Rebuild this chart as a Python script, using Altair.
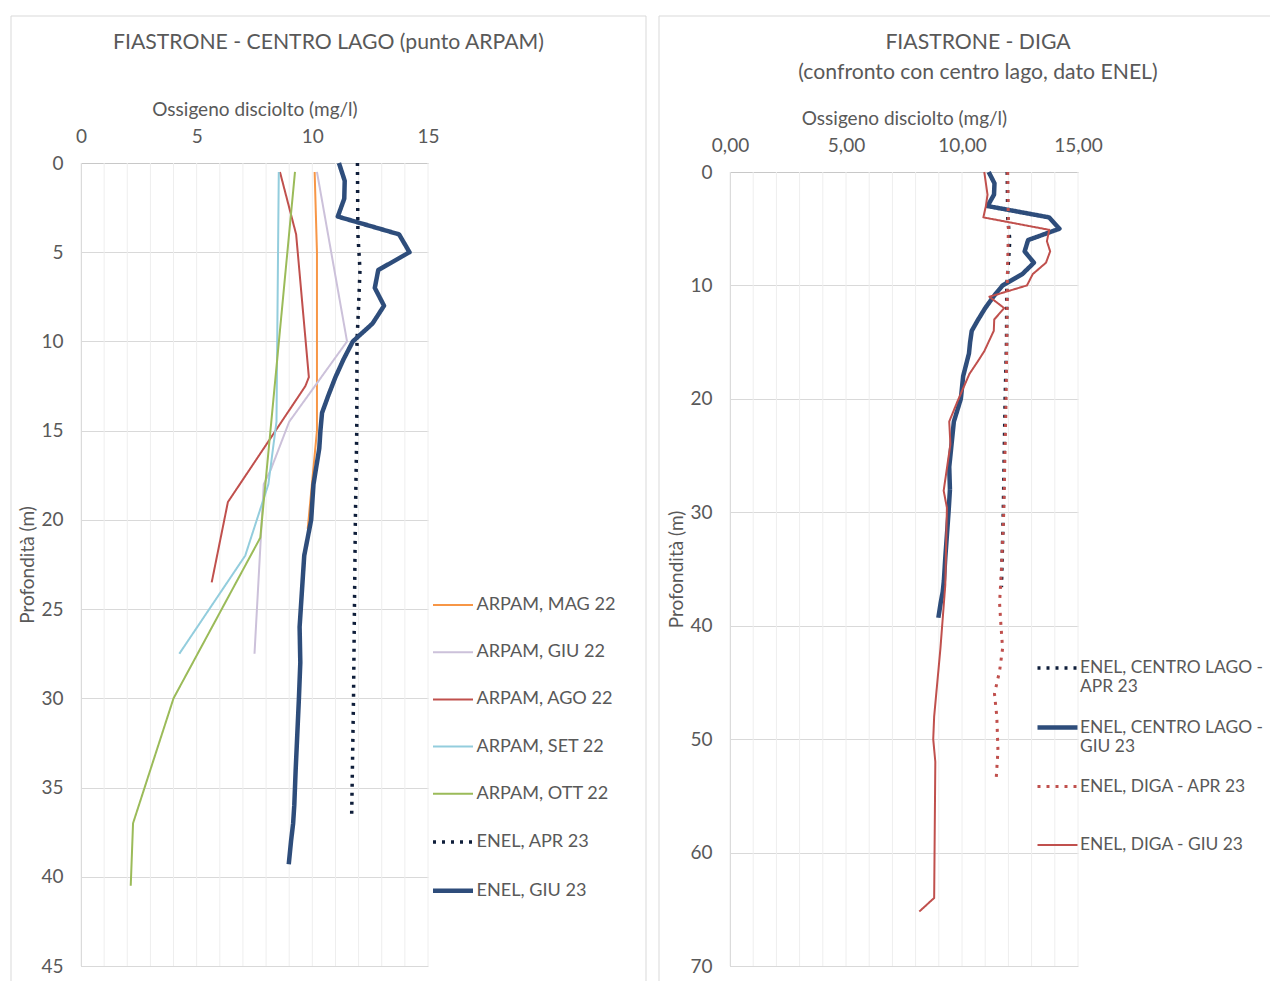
import altair as alt
import pandas as pd

FONT = "Lato"
GREY = "#595959"

# ---------------- left panel data (depth m, dissolved oxygen mg/l) ----------------
mag22_depth = [0.5, 5, 10, 15, 20.5]
mag22_do = [10.1, 10.2, 10.2, 10.2, 9.8]
giu22_depth = [0.5, 10, 14.5, 17.2, 18, 27.5]
giu22_do = [10.2, 11.5, 9.0, 8.2, 7.9, 7.5]
ago22_depth = [0.5, 4, 12, 12.5, 19, 23.5]
ago22_do = [8.6, 9.3, 9.85, 9.7, 6.35, 5.65]
set22_depth = [0.5, 14.5, 18, 22, 27.5]
set22_do = [8.55, 8.45, 8.1, 7.1, 4.25]
ott22_depth = [0.5, 21, 30, 37, 40.5]
ott22_do = [9.25, 7.75, 4.0, 2.25, 2.15]

# ENEL centro lago
apr23_depth = [0, 4, 6, 8, 10, 15, 20, 25, 30, 36.6]
apr23_do = [11.95, 11.97, 12.06, 12.0, 11.93, 11.92, 11.86, 11.82, 11.78, 11.7]
giu23_depth = [0, 1, 2, 3, 4, 5, 6, 7, 8, 9, 10, 11, 12, 13, 14, 15, 16, 18, 20,
               22, 24, 26, 28, 30, 32, 34, 36, 37, 38, 39.3]
giu23_do = [11.15, 11.4, 11.38, 11.1, 13.75, 14.2, 12.85, 12.7, 13.1, 12.6, 11.75,
            11.35, 11.0, 10.7, 10.42, 10.35, 10.3, 10.05, 9.95, 9.65, 9.55, 9.45,
            9.48, 9.42, 9.35, 9.28, 9.22, 9.17, 9.08, 8.98]

# ENEL diga
diga_apr_depth = [0, 5, 10, 15, 20, 25, 30, 35, 38, 40, 42, 44, 46, 48, 51, 53.6]
diga_apr_do = [11.97, 12.0, 11.95, 11.93, 11.9, 11.85, 11.8, 11.7, 11.62, 11.68,
               11.75, 11.62, 11.4, 11.5, 11.55, 11.47]
diga_giu_depth = [0, 2, 3, 4, 5.1, 6.1, 7, 8, 9, 10, 11, 12, 13, 14, 15.8, 16.7,
                  17.8, 20.2, 22, 24, 28.1, 29.6, 36.4, 42, 48, 50, 52, 64, 65.2]
diga_giu_do = [10.96, 11.1, 11.03, 10.92, 13.76, 13.66, 13.8, 13.62, 13.05, 12.8,
               11.18, 11.82, 11.39, 11.37, 10.96, 10.68, 10.32, 9.81, 9.45, 9.5,
               9.21, 9.35, 9.28, 9.07, 8.8, 8.76, 8.85, 8.8, 8.16]

left_series = ["ARPAM, MAG 22", "ARPAM, GIU 22", "ARPAM, AGO 22", "ARPAM, SET 22",
               "ARPAM, OTT 22", "ENEL, APR 23", "ENEL, GIU 23"]
right_series = ["ENEL, CENTRO LAGO - APR 23", "ENEL, CENTRO LAGO - GIU 23",
                "ENEL, DIGA - APR 23", "ENEL, DIGA - GIU 23"]

# minor vertical grid positions (mg/l)
x_grid = list(range(16))


def long(name, depth, do):
    return pd.DataFrame({"series": name, "depth": depth, "do": do})


left_df = pd.concat([
    long(left_series[0], mag22_depth, mag22_do),
    long(left_series[1], giu22_depth, giu22_do),
    long(left_series[2], ago22_depth, ago22_do),
    long(left_series[3], set22_depth, set22_do),
    long(left_series[4], ott22_depth, ott22_do),
    long(left_series[5], apr23_depth, apr23_do),
    long(left_series[6], giu23_depth, giu23_do),
])
right_df = pd.concat([
    long(right_series[0], apr23_depth, apr23_do),
    long(right_series[1], giu23_depth, giu23_do),
    long(right_series[2], diga_apr_depth, diga_apr_do),
    long(right_series[3], diga_giu_depth, diga_giu_do),
])

DOT = [3, 6]
SOLID = [1, 0]
H = 803  # common plot-area height
ONE = pd.DataFrame({"k": [0]})


def frame_rule(**enc):
    return alt.Chart(ONE).mark_rule(color="#d9d9d9", strokeWidth=1).encode(
        **{k: alt.value(v) for k, v in enc.items()})


def panel(df, series, colors, widths, dashes, ymax, ystep, xfmt, titles,
          frame_edges, legend_xy, row_pad, top_gap, label_off, label_size,
          label_expr=None):
    leg = dict(title=None, orient="none", legendX=legend_xy[0], legendY=legend_xy[1],
               symbolType="stroke", symbolSize=1600, labelFont=FONT,
               labelFontSize=label_size, labelColor=GREY, rowPadding=row_pad,
               labelOffset=label_off, padding=0, labelLimit=400)
    if label_expr:
        leg["labelExpr"] = label_expr
    xscale = alt.Scale(domain=[0, 15], nice=False)
    xaxis = alt.Axis(orient="top", values=x_grid, labelExpr=xfmt,
                     labelOverlap=False, labelFlush=False, ticks=False,
                     grid=False, domainColor="#c8c8c8", offset=-top_gap,
                     title="Ossigeno disciolto (mg/l)", titleFont=FONT,
                     titleFontSize=19, titleFontWeight="normal",
                     titleColor=GREY, titlePadding=8.5, labelFont=FONT,
                     labelFontSize=19, labelColor=GREY, labelPadding=16.5)
    yscale = alt.Scale(domain=[0, ymax], nice=False, range=[top_gap, H])
    y = alt.Y("depth:Q", scale=yscale,
              axis=alt.Axis(values=list(range(0, ymax + 1, ystep)), ticks=False,
                            labelFlush=False, grid=True, gridColor="#d9d9d9",
                            domainColor="#c8c8c8",
                            title="Profondità (m)", titleFont=FONT, titleFontSize=19,
                            titleFontWeight="normal", titleColor=GREY,
                            titlePadding=3, labelFont=FONT, labelFontSize=19,
                            labelColor=GREY, labelPadding=18))
    vgrid = alt.Chart(pd.DataFrame({"do": x_grid})).mark_rule(
        color="#eeeeee", strokeWidth=1).encode(
        x=alt.X("do:Q", scale=xscale, axis=xaxis),
        y=alt.value(top_gap), y2=alt.value(H))
    lines = alt.Chart(df).mark_line(strokeJoin="round").encode(
        x=alt.X("do:Q", scale=xscale, axis=xaxis), y=y, order=alt.Order("depth:Q"),
        color=alt.Color("series:N", scale=alt.Scale(domain=series, range=colors),
                        legend=alt.Legend(**leg)),
        strokeWidth=alt.StrokeWidth("series:N",
                                    scale=alt.Scale(type="ordinal", domain=series,
                                                    range=widths),
                                    legend=alt.Legend(**leg)),
        strokeDash=alt.StrokeDash("series:N",
                                  scale=alt.Scale(domain=series, range=dashes),
                                  legend=alt.Legend(**leg)),
    )
    layers = [frame_rule(**e) for e in frame_edges] + [vgrid]
    for txt, tx, ty in titles:
        layers.append(
            alt.Chart(ONE).mark_text(
                text=txt, font=FONT, fontSize=21.2, color=GREY, align="center",
                baseline="middle").encode(x=alt.value(tx), y=alt.value(ty)))
    layers.append(lines)
    return alt.layer(*layers).resolve_scale(x="shared", y="shared")


left = panel(
    left_df, left_series,
    ["#F79646", "#CCC1DA", "#C0504D", "#93CDDD", "#9BBB59", "#0F1E3A", "#2E4D7B"],
    [2, 2, 2, 2, 2, 3.5, 4.5],
    [SOLID, SOLID, SOLID, SOLID, SOLID, DOT, SOLID],
    45, 5, "datum.value % 5 == 0 ? datum.label : ''",
    [("FIASTRONE - CENTRO LAGO (punto ARPAM)", 247.5, -120)],
    [dict(x=-70, x2=565, y=-147),
     dict(x=-70, y=-147, y2=830),
     dict(x=565, y=-147, y2=830)],
    (349.5, 421), 16.2, 0, 1, 18.1,
).properties(width=347, height=H)

right = panel(
    right_df, right_series,
    ["#0F1E3A", "#2E4D7B", "#C0504D", "#C0504D"],
    [3.5, 4.5, 3, 2],
    [DOT, SOLID, DOT, SOLID],
    70, 10, "datum.value % 5 == 0 ? replace(format(datum.value, '.2f'), '.', ',') : ''",
    [("FIASTRONE - DIGA", 248, -120),
     ("(confronto con centro lago, dato ENEL)", 248, -90)],
    [dict(x=-71, x2=540, y=-147),
     dict(x=-71, y=-147, y2=830)],
    (305, 483), 9, 9, 0, 17.4,
    label_expr=("indexof(datum.label, 'CENTRO') >= 0 ? "
                "[slice(datum.label, 0, 19), slice(datum.label, 20)] : "
                "[datum.label, '']"),
).properties(width=348, height=H)

chart = alt.hconcat(left, right, spacing=11).resolve_scale(
    color="independent", strokeWidth="independent", strokeDash="independent",
    x="independent", y="independent"
).properties(
    padding={"left": 2, "top": 7, "right": 0, "bottom": 0}
).configure_view(stroke=None)

chart.save("out.html", embed_options={"renderer": "svg", "actions": False})
